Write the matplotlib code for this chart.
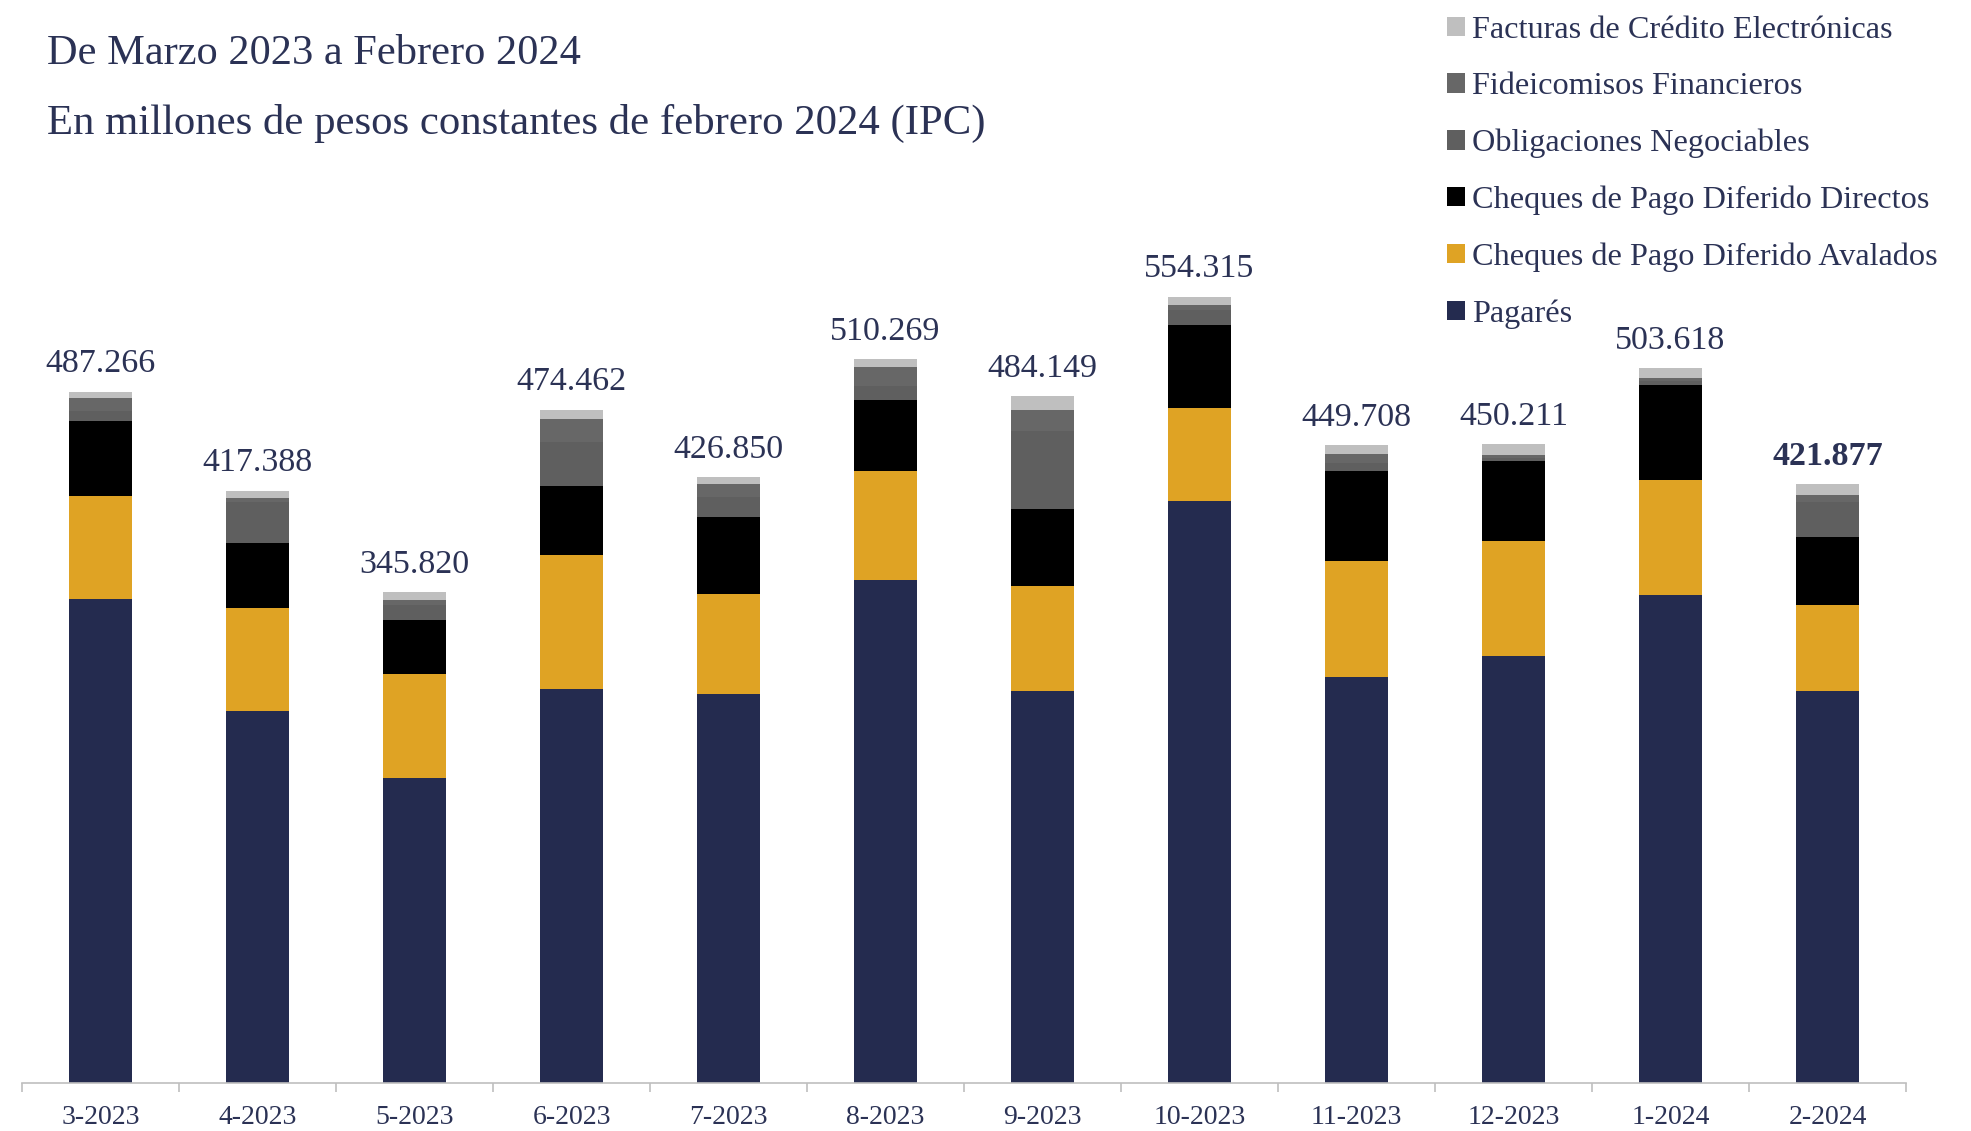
import matplotlib
matplotlib.use('Agg')
import matplotlib.pyplot as plt
import numpy as np

# valores en millones de pesos constantes
meses = ['3-2023', '4-2023', '5-2023', '6-2023', '7-2023', '8-2023',
         '9-2023', '10-2023', '11-2023', '12-2023', '1-2024', '2-2024']
pagares = [340.9, 262.3, 215.3, 277.6, 274.1, 354.6, 276.3, 410.3, 286.4, 301.3, 344.0, 276.0]
cpd_avalados = [73.1, 72.2, 72.7, 94.8, 70.9, 77.0, 73.9, 65.8, 81.2, 81.0, 81.1, 60.9]
cpd_directos = [52.4, 45.8, 38.1, 48.1, 54.0, 49.8, 54.7, 58.5, 64.1, 55.9, 66.7, 47.7]
obligaciones = [7.5, 29.0, 11.0, 31.0, 14.1, 9.9, 54.8, 10.1, 5.1, 2.5, 3.0, 24.8]
fideicomisos = [9.2, 3.0, 3.3, 16.7, 9.0, 13.6, 14.8, 4.0, 6.8, 2.0, 2.2, 5.0]
facturas = [4.2, 5.1, 5.4, 6.3, 4.7, 5.4, 9.6, 5.6, 6.1, 7.5, 6.6, 7.5]
totales = ['487.266', '417.388', '345.820', '474.462', '426.850', '510.269',
           '484.149', '554.315', '449.708', '450.211', '503.618', '421.877']

series = [
    ('Pagarés', pagares, '#242B4F'),
    ('Cheques de Pago Diferido Avalados', cpd_avalados, '#DFA324'),
    ('Cheques de Pago Diferido Directos', cpd_directos, '#000000'),
    ('Obligaciones Negociables', obligaciones, '#5F5F5F'),
    ('Fideicomisos Financieros', fideicomisos, '#676767'),
    ('Facturas de Crédito Electrónicas', facturas, '#BFBFBF'),
]

texto = '#2B3255'
plt.rcParams['font.family'] = ['Liberation Serif', 'DejaVu Serif']

fig = plt.figure(figsize=(19.71, 11.31), dpi=100)
ax = fig.add_axes([22 / 1971, 1 - 1083 / 1131, 1884 / 1971, 933 / 1131])

x = np.arange(len(meses))
bottom = np.zeros(len(meses))
handles = []
for nombre, vals, color in series:
    b = ax.bar(x, vals, 0.4, bottom=bottom, color=color, label=nombre, linewidth=0)
    handles.append(b)
    bottom += np.array(vals)

for i, (xi, top) in enumerate(zip(x, bottom)):
    ax.annotate(totales[i], (xi, top), xytext=(0, 14), textcoords='offset points',
                ha='center', va='baseline', fontsize=24.5, color=texto,
                fontweight='bold' if i == len(meses) - 1 else 'normal')

ax.set_xlim(-0.5, len(meses) - 0.5)
ax.set_ylim(0, 657.6)
ax.set_yticks([])
for s in ['top', 'right', 'left']:
    ax.spines[s].set_visible(False)
ax.spines['bottom'].set_color('#BFBFBF')
ax.spines['bottom'].set_linewidth(1.2)

ax.set_xticks(x)
ax.set_xticklabels(meses, fontsize=20, color=texto)
ax.tick_params(axis='x', which='major', length=0, pad=16)
ax.set_xticks(np.arange(-0.5, len(meses)), minor=True)
ax.tick_params(axis='x', which='minor', length=6.7, color='#BFBFBF', width=1.2)

fig.text(47 / 1971, 1 - 54 / 1131, 'De Marzo 2023 a Febrero 2024', fontsize=30.5,
         color=texto, va='center', ha='left')
fig.text(47 / 1971, 1 - 123 / 1131, 'En millones de pesos constantes de febrero 2024 (IPC)',
         fontsize=30.8, color=texto, va='center', ha='left')

leg = fig.legend(handles[::-1], [s[0] for s in series][::-1], loc='upper left',
                 bbox_to_anchor=(1447 / 1971, 1 - 16 / 1131), frameon=False,
                 fontsize=23.2, handlelength=0.55, handleheight=0.55, handletextpad=0.22,
                 labelspacing=0.85, borderpad=0, borderaxespad=0)
for t in leg.get_texts():
    t.set_color(texto)

fig.savefig('out.png', dpi=100, facecolor='white')
